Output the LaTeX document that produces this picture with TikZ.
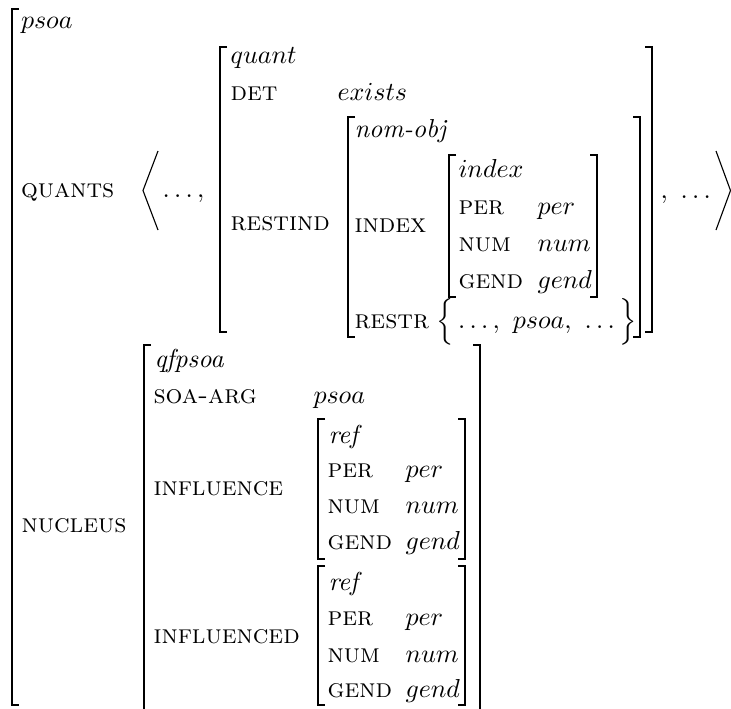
\documentclass[tikz,border=0pt]{standalone}
\begin{document}
\begin{tikzpicture}[x=0.385pt,y=-0.385pt,
  feat/.style={anchor=base west,inner sep=0pt,font=\fontsize{10.2}{12}\selectfont\scshape},
  val/.style={anchor=base west,inner sep=0pt},
  brk/.style={line width=0.62pt,line cap=butt,line join=miter},
  ang/.style={line width=0.43pt}]
\clip (0,0) rectangle (731,708);
% outer AVM (psoa)
\draw[brk] (19,9) -- (12,9) -- (12,705) -- (19,705);
\node[val] (t1) at (20.5,28) {$psoa$};
\node[feat] (f1) at (20.5,197) {quants};
\draw[ang] (158,151) -- (143,190.5) -- (158,230);
\node[val] (d1) at (162,197) {$\ldots,$};
% quant AVM
\draw[brk] (227,47) -- (220,47) -- (220,332) -- (227,332);
\draw[brk] (645,47) -- (652,47) -- (652,332) -- (645,332);
\node[val] (t2) at (230,63) {$quant$};
\node[feat] (f2) at (230,100) {det};
\node[val] (v2) at (337,100) {$exists$};
\node[feat] (f3) at (230,230) {restind};
% nom-obj AVM
\draw[brk] (355,117) -- (348,117) -- (348,337) -- (355,337);
\draw[brk] (633,117) -- (640,117) -- (640,337) -- (633,337);
\node[val] (t3) at (354,137) {\textit{nom-obj}};
\node[feat] (f4) at (354,232) {index};
\node[feat] (f5) at (354,328) {restr};
\node[val] (v5) at (436,328) {$\Big\{\ldots,\ psoa,\ \ldots\Big\}$};
% index AVM
\draw[brk] (456,155) -- (449,155) -- (449,297) -- (456,297);
\draw[brk] (590,155) -- (597,155) -- (597,297) -- (590,297);
\node[val] (t4) at (458,177) {$index$};
\node[feat] (f6) at (458,214) {per};
\node[val] (v6) at (537,214) {$per$};
\node[feat] (f7) at (458,251) {num};
\node[val] (v7) at (537,251) {$num$};
\node[feat] (f8) at (458,288) {gend};
\node[val] (v8) at (537,288) {$gend$};
\node[val] (d2) at (660,198) {$,\ \ldots$};
\draw[ang] (716,151) -- (730.5,190.5) -- (716,230);
% nucleus
\node[feat] (f9) at (21,532) {nucleus};
\draw[brk] (151,345) -- (144,345) -- (144,720);
\draw[brk] (473,345) -- (480,345) -- (480,720);
\node[val] (t5) at (154,367) {\textit{qfpsoa}};
\node[feat] (f10) at (153,403) {soa-arg};
\node[val] (v10) at (313,403) {$psoa$};
\node[feat] (f11) at (153,495) {influence};
\node[feat] (f12) at (153,643) {influenced};
% ref AVM 1
\draw[brk] (325,419) -- (318,419) -- (318,559) -- (325,559);
\draw[brk] (458,419) -- (465,419) -- (465,559) -- (458,559);
\node[val] (t6) at (328,443) {\textit{ref}};
\node[feat] (f13) at (327,477) {per};
\node[val] (v13) at (405,477) {$per$};
\node[feat] (f14) at (327,513) {num};
\node[val] (v14) at (405,513) {$num$};
\node[feat] (f15) at (327,549) {gend};
\node[val] (v15) at (405,549) {$gend$};
% ref AVM 2
\draw[brk] (325,566) -- (318,566) -- (318,705) -- (325,705);
\draw[brk] (458,566) -- (465,566) -- (465,705) -- (458,705);
\node[val] (t7) at (328,590) {\textit{ref}};
\node[feat] (f16) at (327,625) {per};
\node[val] (v16) at (405,625) {$per$};
\node[feat] (f17) at (327,662) {num};
\node[val] (v17) at (405,662) {$num$};
\node[feat] (f18) at (327,697) {gend};
\node[val] (v18) at (405,697) {$gend$};
\end{tikzpicture}
\end{document}
